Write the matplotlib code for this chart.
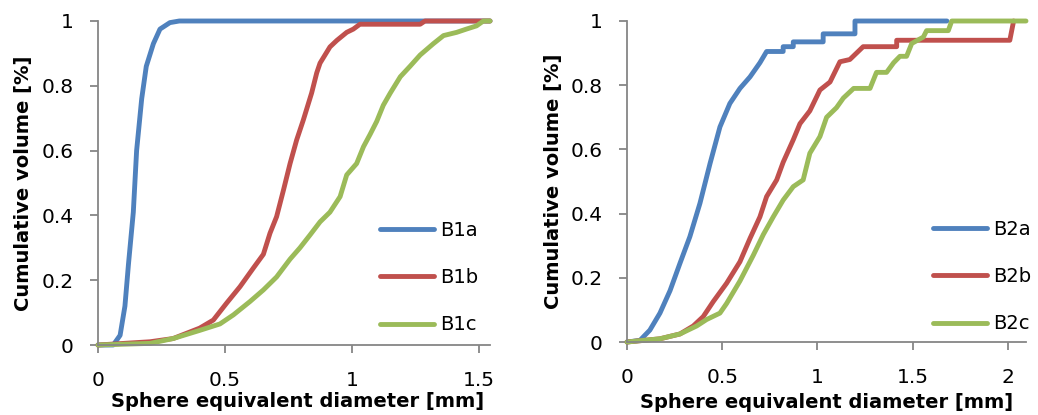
import matplotlib
matplotlib.use("Agg")
import matplotlib.pyplot as plt

# ---- data ----
b1a_x = [0, 0.06, 0.087, 0.106, 0.12, 0.139, 0.152, 0.172, 0.19, 0.218, 0.244, 0.283, 0.32, 1.543]
b1a_y = [0, 0.0, 0.03, 0.12, 0.25, 0.41, 0.6, 0.76, 0.86, 0.93, 0.975, 0.995, 1.0, 1.0]

b1b_x = [0, 0.205, 0.296, 0.40, 0.454, 0.507, 0.559, 0.611, 0.651, 0.677, 0.703, 0.73, 0.756, 0.782,
         0.808, 0.841, 0.861, 0.874, 0.913, 0.94, 0.979, 1.005, 1.031, 1.268, 1.287, 1.543]
b1b_y = [0, 0.01, 0.02, 0.052, 0.077, 0.13, 0.18, 0.237, 0.28, 0.345, 0.396, 0.478, 0.56, 0.633,
         0.694, 0.778, 0.84, 0.87, 0.92, 0.94, 0.965, 0.975, 0.99, 0.99, 1.0, 1.0]

b1c_x = [0, 0.205, 0.296, 0.40, 0.48, 0.533, 0.598, 0.651, 0.703, 0.756, 0.795, 0.835, 0.874, 0.913,
         0.953, 0.979, 1.018, 1.045, 1.071, 1.097, 1.123, 1.15, 1.19, 1.228, 1.268, 1.32, 1.36,
         1.412, 1.45, 1.49, 1.517, 1.543]
b1c_y = [0, 0.005, 0.02, 0.045, 0.065, 0.093, 0.134, 0.17, 0.21, 0.265, 0.30, 0.34, 0.38, 0.41,
         0.458, 0.525, 0.56, 0.612, 0.65, 0.69, 0.74, 0.777, 0.828, 0.86, 0.895, 0.93, 0.955,
         0.965, 0.975, 0.985, 1.0, 1.0]

b2a_x = [0, 0.068, 0.12, 0.173, 0.226, 0.278, 0.33, 0.383, 0.436, 0.488, 0.54, 0.593, 0.646, 0.698,
         0.733, 0.82, 0.82, 0.873, 0.873, 1.03, 1.03, 1.197, 1.197, 1.68]
b2a_y = [0, 0.005, 0.037, 0.09, 0.16, 0.245, 0.328, 0.432, 0.556, 0.67, 0.743, 0.79, 0.826, 0.87,
         0.905, 0.905, 0.92, 0.92, 0.935, 0.935, 0.96, 0.96, 1.0, 1.0]

b2b_x = [0, 0.173, 0.278, 0.348, 0.40, 0.453, 0.523, 0.593, 0.646, 0.698, 0.733, 0.786, 0.82, 0.873,
         0.908, 0.96, 1.013, 1.066, 1.118, 1.17, 1.24, 1.416, 1.416, 2.01, 2.03]
b2b_y = [0, 0.01, 0.025, 0.05, 0.079, 0.126, 0.183, 0.25, 0.323, 0.39, 0.453, 0.505, 0.56, 0.63,
         0.68, 0.72, 0.785, 0.81, 0.873, 0.88, 0.92, 0.92, 0.94, 0.94, 1.0]

b2c_x = [0, 0.173, 0.278, 0.366, 0.418, 0.488, 0.523, 0.593, 0.663, 0.716, 0.768, 0.82, 0.873, 0.925,
         0.96, 1.013, 1.048, 1.1, 1.136, 1.19, 1.276, 1.31, 1.363, 1.40, 1.433, 1.468, 1.495, 1.556,
         1.573, 1.687, 1.705, 2.095]
b2c_y = [0, 0.01, 0.025, 0.05, 0.07, 0.09, 0.12, 0.19, 0.27, 0.335, 0.39, 0.442, 0.484, 0.505,
         0.588, 0.64, 0.70, 0.73, 0.76, 0.79, 0.79, 0.84, 0.84, 0.87, 0.89, 0.89, 0.93, 0.95,
         0.97, 0.97, 1.0, 1.0]

left_labels = ["B1a", "B1b", "B1c"]
right_labels = ["B2a", "B2b", "B2c"]
colors = ["#4F81BD", "#C0504D", "#9BBB59"]

plt.rcParams['font.family'] = ['DejaVu Sans']

fig = plt.figure(figsize=(10.38, 4.15), dpi=100)
ax1 = fig.add_axes([98/1038, 1-345/415, (490-98)/1038, (345-21)/415])
ax2 = fig.add_axes([627/1038, 1-342/415, (1026-627)/1038, (342-21)/415])

def style(ax, xmax, xticks, xlabel_x, xlabel_y, ylabel_x):
    ax.set_xlim(0, xmax)
    ax.set_ylim(0, 1)
    ax.set_xticks(xticks)
    ax.set_xticklabels([("%g" % t) for t in xticks])
    ax.set_yticks([0, 0.2, 0.4, 0.6, 0.8, 1])
    ax.set_yticklabels(["0", "0.2", "0.4", "0.6", "0.8", "1"])
    for s in ["top", "right"]:
        ax.spines[s].set_visible(False)
    for s in ["left", "bottom"]:
        ax.spines[s].set_color("#868686")
        ax.spines[s].set_linewidth(1.3)
    ax.tick_params(axis="x", direction="out", length=5.8, width=1.3, color="#868686",
                   labelsize=14.5, pad=13)
    ax.tick_params(axis="y", direction="out", length=5.8, width=1.3, color="#868686",
                   labelsize=14.5, pad=12)
    ax.set_xlabel("Sphere equivalent diameter [mm]", fontsize=14, fontweight="bold", va="center")
    ax.xaxis.set_label_coords(xlabel_x, xlabel_y)
    ax.set_ylabel("Cumulative volume [%]", fontsize=14, fontweight="bold", va="center")
    ax.yaxis.set_label_coords(ylabel_x, 0.5)

for x, y, c, l in zip([b1a_x, b1b_x, b1c_x], [b1a_y, b1b_y, b1c_y], colors, left_labels):
    ax1.plot(x, y, color=c, lw=3.5, label=l, solid_capstyle="round", clip_on=False)
for x, y, c, l in zip([b2a_x, b2b_x, b2c_x], [b2a_y, b2b_y, b2c_y], colors, right_labels):
    ax2.plot(x, y, color=c, lw=3.5, label=l, solid_capstyle="round", clip_on=False)

style(ax1, 1.543, [0, 0.5, 1, 1.5], 0.51, -0.173, -0.191)
style(ax2, 2.095, [0, 0.5, 1, 1.5, 2], 0.5, -0.187, -0.185)

for ax, xa, ya in [(ax1, (380-98)/392, (345-221)/324), (ax2, (933-627)/399, (342-220)/321)]:
    ax.legend(loc="upper left", bbox_to_anchor=(xa, ya), frameon=False, fontsize=14,
              handlelength=2.8, handletextpad=0.3, labelspacing=1.45, borderpad=0,
              borderaxespad=0)

fig.savefig("out.png", dpi=100)
